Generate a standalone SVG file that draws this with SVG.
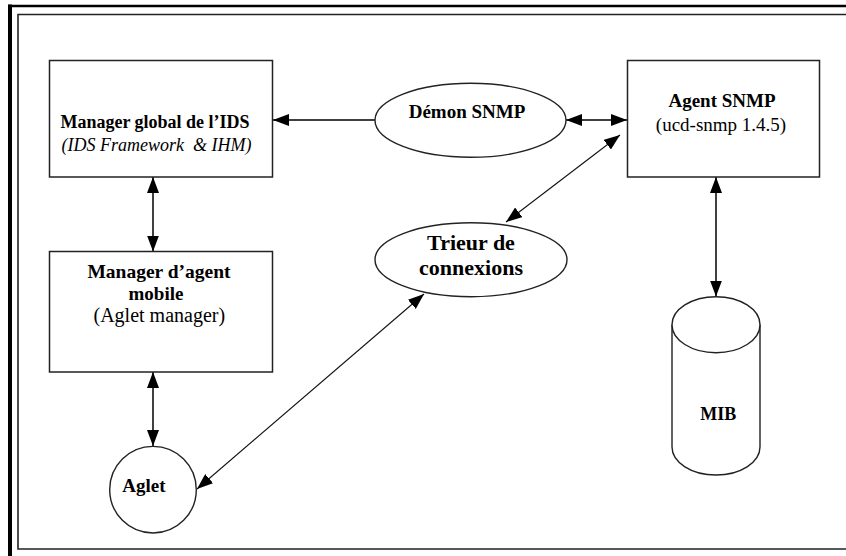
<svg xmlns="http://www.w3.org/2000/svg" width="846" height="556" viewBox="0 0 846 556">
  <defs>
    <marker id="arrow" viewBox="0 0 16 12" refX="16" refY="6" markerWidth="16" markerHeight="12" markerUnits="userSpaceOnUse" orient="auto-start-reverse">
      <path d="M0,0 L16,6 L0,12 z" fill="#000"/>
    </marker>
    <style>
      .box { fill: #fff; stroke: #222; stroke-width: 1.5; }
      .shape { fill: #fff; stroke: #222; stroke-width: 1.4; }
      .t { font-family: "Liberation Serif", "Times New Roman", serif; fill: #000; text-anchor: middle; }
      .b { font-weight: bold; }
      .i { font-style: italic; }
      .link { stroke: #000; stroke-width: 1.5; fill: none; }
      .diag { stroke: #111; stroke-width: 1.1; fill: none; }
    </style>
  </defs>

  <rect x="0" y="0" width="846" height="556" fill="#fff"/>

  <!-- page frame: heavy outer rule and thin inner rule, both running past the right and bottom edges -->
  <g id="frame">
    <line x1="10" y1="4.5" x2="10" y2="560" stroke="#000" stroke-width="4"/>
    <line x1="8" y1="6" x2="850" y2="6" stroke="#000" stroke-width="2.5"/>
    <path d="M850,14.5 H18 V549 H850" fill="none" stroke="#222" stroke-width="1.6"/>
  </g>

  <!-- connectors -->
  <g id="connectors">
    <line class="link" x1="375" y1="120" x2="273" y2="120" marker-end="url(#arrow)"/>
    <line class="link" x1="566" y1="120" x2="627" y2="120" marker-start="url(#arrow)" marker-end="url(#arrow)"/>
    <line class="diag" x1="620" y1="135" x2="506" y2="222" marker-start="url(#arrow)" marker-end="url(#arrow)"/>
    <line class="link" x1="153" y1="177" x2="153" y2="251.5" marker-start="url(#arrow)" marker-end="url(#arrow)"/>
    <line class="link" x1="153" y1="372" x2="153" y2="446" marker-start="url(#arrow)" marker-end="url(#arrow)"/>
    <line class="diag" x1="424" y1="294" x2="197" y2="489" marker-start="url(#arrow)" marker-end="url(#arrow)"/>
    <line class="link" x1="716" y1="177" x2="716" y2="296.5" marker-start="url(#arrow)" marker-end="url(#arrow)"/>
  </g>

  <g id="manager-global">
    <rect class="box" x="49.5" y="60.5" width="223" height="116.5"/>
    <text class="t b" x="155" y="128" font-size="18">Manager global de l’IDS</text>
    <text class="t i" x="156.5" y="150.5" font-size="18" xml:space="preserve">(IDS Framework  &amp; IHM)</text>
  </g>

  <g id="demon-snmp">
    <ellipse class="shape" cx="470.5" cy="120.3" rx="95.5" ry="37"/>
    <text class="t b" x="467" y="117.7" font-size="19">Démon SNMP</text>
  </g>

  <g id="agent-snmp">
    <rect class="box" x="627.5" y="60.5" width="192" height="116.5"/>
    <text class="t b" x="722" y="106.7" font-size="19">Agent SNMP</text>
    <text class="t" x="721" y="131" font-size="19">(ucd-snmp 1.4.5)</text>
  </g>

  <g id="trieur">
    <ellipse class="shape" cx="471" cy="259.7" rx="96" ry="37"/>
    <text class="t b" x="471" y="250" font-size="22">Trieur de</text>
    <text class="t b" x="471" y="275" font-size="22">connexions</text>
  </g>

  <g id="manager-agent-mobile">
    <rect class="box" x="49.5" y="251.5" width="223" height="120.5"/>
    <text class="t b" x="159" y="278" font-size="19.5">Manager d’agent</text>
    <text class="t b" x="156" y="300" font-size="19">mobile</text>
    <text class="t" x="159.3" y="321.5" font-size="20">(Aglet manager)</text>
  </g>

  <g id="aglet">
    <circle class="shape" cx="153" cy="489.7" r="43.3"/>
    <text class="t b" x="144" y="492" font-size="19">Aglet</text>
  </g>

  <g id="mib">
    <path class="shape" d="M672,324.7 V447 A44,28 0 0 0 760,447 V324.7"/>
    <ellipse class="shape" cx="716" cy="324.7" rx="44" ry="28"/>
    <text class="t b" x="718.3" y="420" font-size="18">MIB</text>
  </g>
</svg>
